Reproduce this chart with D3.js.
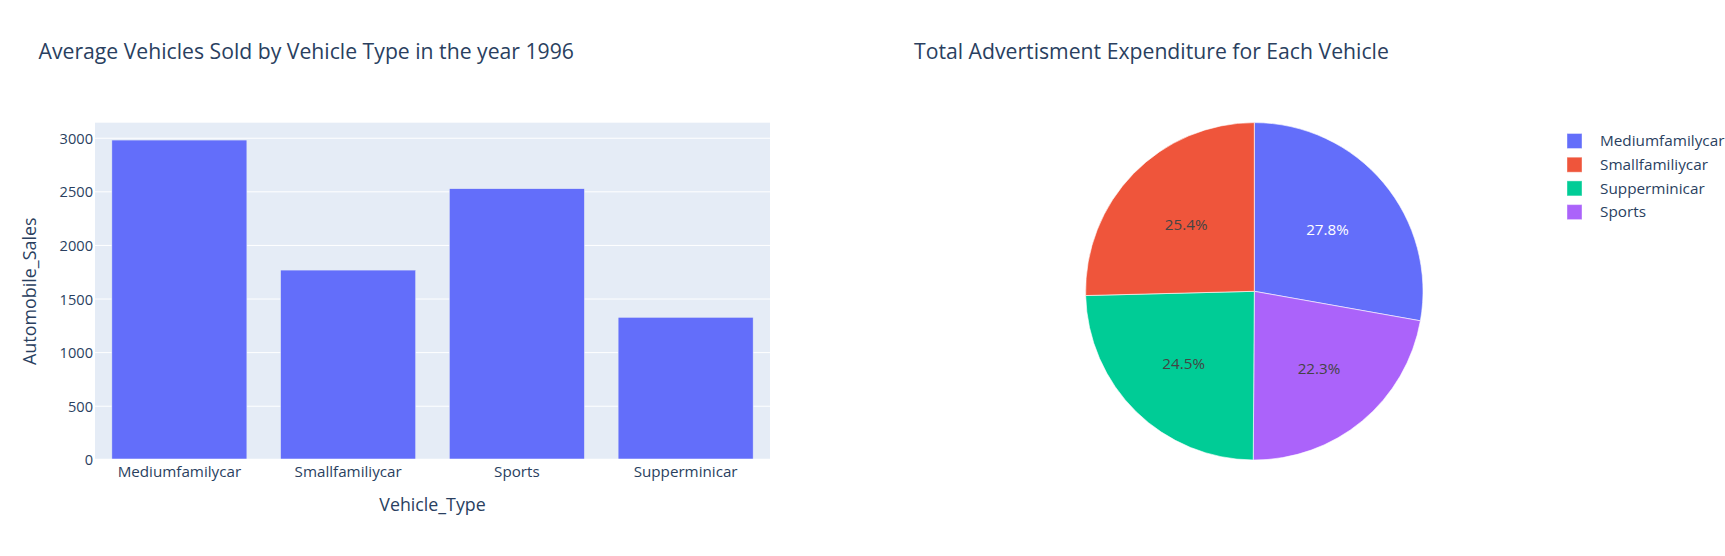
<!DOCTYPE html>
<html><head><meta charset="utf-8">
<script src="https://cdn.jsdelivr.net/npm/d3@7"></script>
<style>body{margin:0;background:#fff}svg{display:block}text{font-family:"Open Sans","Noto Sans",sans-serif}</style>
</head><body><svg id="c" width="1725" height="556"></svg>
<script>
// Bar chart data
const vehicleTypes = ["Mediumfamilycar", "Smallfamiliycar", "Sports", "Supperminicar"];
const avgSales = [2983, 1770, 2529, 1329];
const yTicks = [0, 500, 1000, 1500, 2000, 2500, 3000];
// Pie data (share of advertisement expenditure, %)
const pieLabels = ["Mediumfamilycar", "Smallfamiliycar", "Supperminicar", "Sports"];
const pieValues = [27.8, 25.4, 24.5, 22.3];
const pieColors = ["#636EFA", "#EF553B", "#00CC96", "#AB63FA"];
const pieTextColors = ["#ffffff", "#444444", "#444444", "#444444"];
const titles = ["Average Vehicles Sold by Vehicle Type in the year 1996", "Total Advertisment Expenditure for Each Vehicle"];

const svg = d3.select("#c");
const txt = "#2a3f5f";
const tickSize = 15.2;

// ---- Bar chart ----
const plot = {l: 95, r: 770, t: 122.7, b: 459.8};
const x = d3.scaleBand().domain(vehicleTypes).range([plot.l, plot.r]).paddingInner(0.2).paddingOuter(0.1);
const y = d3.scaleLinear().domain([0, 3145]).range([plot.b, plot.t]);

svg.append("rect").attr("x", plot.l).attr("y", plot.t).attr("width", plot.r - plot.l).attr("height", plot.b - plot.t).attr("fill", "#E5ECF6");

const yAxis = d3.axisLeft(y).tickValues(yTicks).tickSize(0).tickPadding(0).tickFormat(d3.format("d"));
const gy = svg.append("g").attr("transform", `translate(${plot.l},0)`).call(yAxis);
gy.select(".domain").remove();
gy.selectAll("text").attr("x", -2).attr("fill", txt).style("font-size", "14.6px").attr("dy", "0.35em");

svg.append("g").selectAll("line").data(yTicks.filter(d => d > 0)).join("line")
  .attr("x1", plot.l).attr("x2", plot.r).attr("y1", d => y(d)).attr("y2", d => y(d))
  .attr("stroke", "#fff").attr("stroke-width", 1);

svg.append("g").selectAll("rect").data(vehicleTypes).join("rect")
  .attr("x", d => x(d)).attr("width", x.bandwidth())
  .attr("y", (d, i) => y(avgSales[i])).attr("height", (d, i) => y(0) - y(avgSales[i]))
  .attr("fill", "#636EFA").attr("stroke", "#E5ECF6").attr("stroke-width", 0.5);

svg.append("line").attr("x1", plot.l).attr("x2", plot.r).attr("y1", y(0)).attr("y2", y(0)).attr("stroke", "#fff").attr("stroke-width", 2);

const xAxis = d3.axisBottom(x).tickSize(0).tickPadding(0);
const gx = svg.append("g").attr("transform", `translate(0,${plot.b})`).call(xAxis);
gx.select(".domain").remove();
gx.selectAll("text").attr("y", 11.5).attr("dy", "0.35em").attr("fill", txt).style("font-size", tickSize + "px");

svg.append("text").attr("x", (plot.l + plot.r) / 2).attr("y", 504.5).attr("dy", "0.35em").attr("text-anchor", "middle")
  .attr("fill", txt).style("font-size", "17.8px").text("Vehicle_Type");
svg.append("text").attr("transform", `translate(30,${(plot.t + plot.b) / 2}) rotate(-90)`).attr("dy", "0.35em").attr("text-anchor", "middle")
  .attr("fill", txt).style("font-size", "17.9px").text("Automobile_Sales");

// ---- Titles ----
svg.append("text").attr("x", 38.5).attr("y", 52).attr("dy", "0.35em").attr("fill", txt).style("font-size", "21.2px").text(titles[0]);
svg.append("text").attr("x", 914).attr("y", 52).attr("dy", "0.35em").attr("fill", txt).style("font-size", "21.2px").text(titles[1]);

// ---- Pie ----
const cx = 1254.3, cy = 291.3, R = 168.7;
const pieData = pieLabels.map((l, i) => ({label: l, value: pieValues[i], color: pieColors[i], tc: pieTextColors[i]}));
// Largest slice clockwise from 12 o'clock; the remaining slices counterclockwise from 12 o'clock
const drawOrder = [0, 3, 2, 1];
const pie = d3.pie().value(d => d.value).sort(null).startAngle(0).endAngle(2 * Math.PI);
const arcs = pie(drawOrder.map(i => pieData[i]));
const arc = d3.arc().innerRadius(0).outerRadius(R);
const gp = svg.append("g").attr("transform", `translate(${cx},${cy})`);
gp.selectAll("path").data(arcs).join("path").attr("d", arc)
  .attr("fill", d => d.data.color).attr("stroke", "#fff").attr("stroke-width", 0.6);
const total = d3.sum(pieValues);
gp.selectAll("text").data(arcs).join("text")
  .attr("transform", d => { const a = (d.startAngle + d.endAngle) / 2; const r = 98 - 4 * Math.cos(a); return `translate(${Math.sin(a) * r},${-Math.cos(a) * r})`; })
  .attr("text-anchor", "middle").attr("dy", "0.35em").attr("fill", d => d.data.tc).style("font-size", tickSize + "px")
  .text(d => (d.data.value / total * 100).toFixed(1) + "%");

// ---- Legend ----
const lg = svg.append("g").attr("transform", "translate(1567,141)");
const rows = lg.selectAll("g").data(pieData).join("g").attr("transform", (d, i) => `translate(0,${i * 23.7})`);
rows.append("rect").attr("x", 0).attr("y", -7.5).attr("width", 15).attr("height", 15)
  .attr("fill", d => d.color).attr("stroke", "#fff").attr("stroke-opacity", 0.4).attr("stroke-width", 1);
rows.append("text").attr("x", 33).attr("dy", "0.35em").attr("fill", txt).style("font-size", "15.3px").text(d => d.label);
</script></body></html>
